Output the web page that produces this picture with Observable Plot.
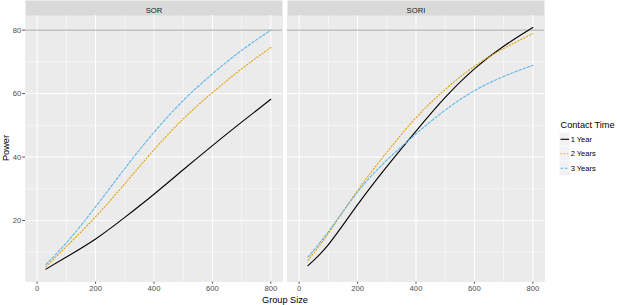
<!DOCTYPE html>
<html>
<head>
<meta charset="utf-8">
<script src="https://cdn.jsdelivr.net/npm/d3@7"></script>
<script src="https://cdn.jsdelivr.net/npm/@observablehq/plot@0.6"></script>
<style>
  body { margin: 0; background: #ffffff; }
  #wrap { position: relative; width: 617px; height: 305px; font-family: "Liberation Sans", Arial, sans-serif; }
  #wrap svg { position: absolute; left: 0; top: 0; }
</style>
</head>
<body>
<div id="wrap"></div>
<script>
// ---- data ----
const facetNames = ["SOR", "SORI"];
const seriesNames = ["1 Year", "2 Years", "3 Years"];
const groupSize = [30, 100, 200, 300, 400, 500, 600, 700, 800];

const sor1Year   = [4.7, 8.5, 14.2, 21.0, 28.3, 36.0, 43.6, 51.0, 58.2];
const sor2Years  = [5.5, 11.8, 21.2, 31.6, 42.3, 52.0, 60.3, 67.8, 74.5];
const sor3Years  = [6.2, 13.0, 24.3, 36.4, 47.8, 57.8, 66.2, 73.6, 80.0];
const sori1Year  = [5.8, 12.4, 25.0, 37.0, 48.2, 58.8, 67.8, 74.9, 80.8];
const sori2Years = [7.5, 16.0, 29.5, 41.5, 52.4, 61.3, 68.6, 74.2, 78.9];
const sori3Years = [8.5, 16.5, 29.0, 39.0, 47.3, 54.8, 60.9, 65.4, 68.9];

const xMajor = [0, 200, 400, 600, 800];
const xMinor = [100, 300, 500, 700];
const yMajor = [20, 40, 60, 80];
const yMinor = [10, 30, 50, 70];
const refLine = [80];

const seriesColors = ["#000000", "#E69F00", "#56B4E9"];
const seriesDash = [null, "1.2,2", "2.6,1.8"];
const seriesWidth = [1.1, 1.1, 1.05];

// ---- build table ----
const valueSets = {
  "SOR":  [sor1Year, sor2Years, sor3Years],
  "SORI": [sori1Year, sori2Years, sori3Years]
};
const rows = [];
for (const f of facetNames) {
  valueSets[f].forEach((vals, si) => {
    groupSize.forEach((g, i) => rows.push({facet: f, series: seriesNames[si], size: g, power: vals[i]}));
  });
}

const lineMarks = seriesNames.map((s, si) =>
  Plot.line(rows.filter(d => d.series === s), {
    x: "size", y: "power", fx: "facet",
    stroke: seriesColors[si],
    strokeWidth: seriesWidth[si],
    strokeDasharray: seriesDash[si] || undefined,
    curve: "natural"
  })
);

const chart = Plot.plot({
  width: 617, height: 305,
  marginLeft: 25, marginRight: 72, marginTop: 15, marginBottom: 24,
  style: {fontFamily: "Liberation Sans, Arial, sans-serif", fontSize: "7.7px", color: "#4D4D4D", background: "transparent", overflow: "visible"},
  fx: {domain: facetNames, paddingInner: 0.019, paddingOuter: 0, axis: null, label: null},
  x: {domain: [-40, 840], ticks: xMajor, tickSize: 2.7, tickPadding: 1.5, label: null},
  y: {domain: [0.8, 84.6], ticks: yMajor, tickSize: 2.7, tickPadding: 1.5, label: null},
  marks: [
    Plot.frame({fill: "#D9D9D9", stroke: "none", insetTop: -15}),
    Plot.frame({fill: "#EBEBEB", stroke: "none"}),
    Plot.ruleX(xMinor, {stroke: "#ffffff", strokeWidth: 0.5}),
    Plot.ruleY(yMinor, {stroke: "#ffffff", strokeWidth: 0.5}),
    Plot.ruleX(xMajor, {stroke: "#ffffff", strokeWidth: 1}),
    Plot.ruleY(yMajor, {stroke: "#ffffff", strokeWidth: 1}),
    Plot.ruleY(refLine, {stroke: "#A3A3A3", strokeWidth: 1}),
    ...lineMarks,
    Plot.text(facetNames, {fx: d => d, text: d => d, frameAnchor: "top", dy: -7.5, fill: "#1A1A1A", fontSize: 7.7})
  ]
});

const wrap = document.getElementById("wrap");
wrap.appendChild(chart);

// ---- overlay: axis titles and legend ----
const ov = d3.select(wrap).append("svg")
  .attr("width", 617).attr("height", 305)
  .style("font-family", "Liberation Sans, Arial, sans-serif");

ov.append("text").text("Group Size")
  .attr("x", 285).attr("y", 300).attr("text-anchor", "middle").attr("dominant-baseline", "central")
  .attr("font-size", 9.2).attr("fill", "#000");
ov.append("text").text("Power")
  .attr("transform", "translate(6,148) rotate(-90)").attr("text-anchor", "middle").attr("dominant-baseline", "central")
  .attr("font-size", 9.2).attr("fill", "#000");

const legendTitle = "Contact Time";
ov.append("text").text(legendTitle)
  .attr("x", 560.5).attr("y", 125).attr("dominant-baseline", "central")
  .attr("font-size", 9.2).attr("fill", "#000");
const keyY = [139.3, 153.8, 168.2];
seriesNames.forEach((s, i) => {
  const g = ov.append("g");
  g.append("rect").attr("x", 559.5).attr("y", keyY[i] - 7).attr("width", 10).attr("height", 14).attr("fill", "#F2F2F2");
  g.append("line").attr("x1", 560.5).attr("x2", 569).attr("y1", keyY[i]).attr("y2", keyY[i])
    .attr("stroke", seriesColors[i]).attr("stroke-width", seriesWidth[i])
    .attr("stroke-dasharray", seriesDash[i] || null);
  g.append("text").text(s).attr("x", 570.7).attr("y", keyY[i]).attr("dominant-baseline", "central")
    .attr("font-size", 7.5).attr("fill", "#000");
});
</script>
</body>
</html>
